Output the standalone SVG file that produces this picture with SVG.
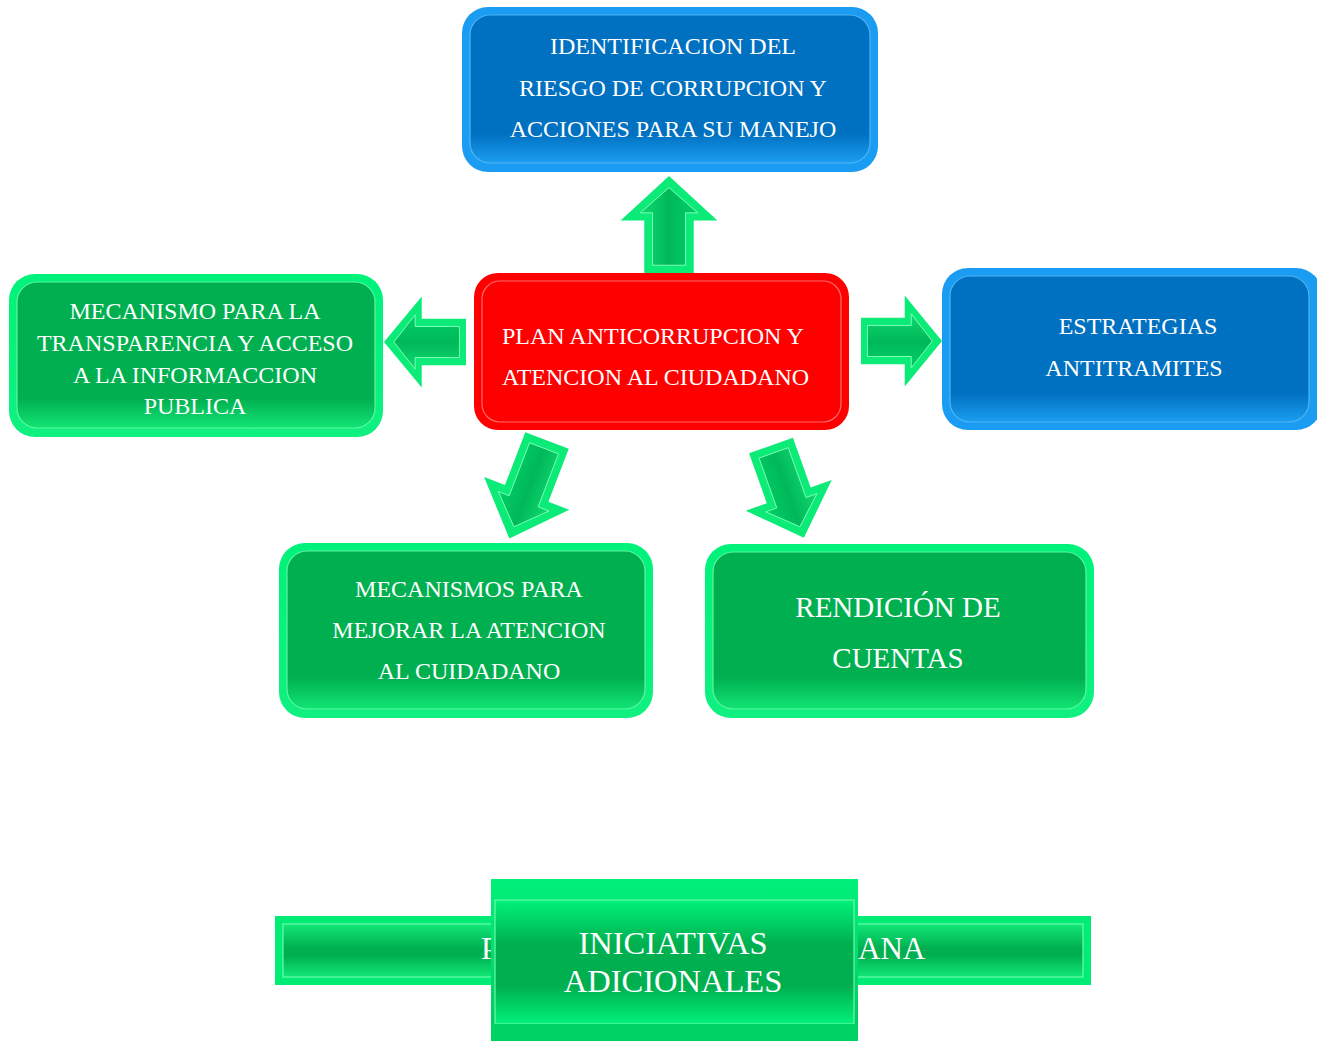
<svg xmlns="http://www.w3.org/2000/svg" width="1317" height="1041" viewBox="0 0 1317 1041">
<defs>
<linearGradient id="gIn" x1="0" y1="0" x2="0" y2="1">
<stop offset="0" stop-color="#00B050"/><stop offset="0.8" stop-color="#00B050"/><stop offset="1" stop-color="#12E474"/>
</linearGradient>
<linearGradient id="gOut" x1="0" y1="0" x2="0" y2="1">
<stop offset="0" stop-color="#00F27A"/><stop offset="1" stop-color="#10F080"/>
</linearGradient>
<linearGradient id="bIn" x1="0" y1="0" x2="0" y2="1">
<stop offset="0" stop-color="#0070C0"/><stop offset="0.8" stop-color="#0070C0"/><stop offset="1" stop-color="#1C9EF0"/>
</linearGradient>
<linearGradient id="barIn" x1="0" y1="0" x2="0" y2="1">
<stop offset="0" stop-color="#12E878"/><stop offset="0.45" stop-color="#00B050"/><stop offset="0.6" stop-color="#00B050"/><stop offset="1" stop-color="#12E878"/>
</linearGradient>
<linearGradient id="frontIn" x1="0" y1="0" x2="0" y2="1">
<stop offset="0" stop-color="#00F27A"/><stop offset="0.35" stop-color="#00B050"/><stop offset="0.7" stop-color="#00B050"/><stop offset="1" stop-color="#00F27A"/>
</linearGradient>
<linearGradient id="frontTop" x1="0" y1="0" x2="0" y2="1">
<stop offset="0" stop-color="#00F07A"/><stop offset="1" stop-color="#00C860"/>
</linearGradient>
<linearGradient id="aIn" x1="0" y1="0" x2="1" y2="0">
<stop offset="0" stop-color="#00D068"/><stop offset="0.5" stop-color="#00B858"/><stop offset="1" stop-color="#10DA72"/>
</linearGradient>
<g id="arrow">
<path d="M-24,0 L24,0 L24,54 L47,54 L0,100 L-47,54 L-24,54 Z" fill="#0CEA78"/>
<path d="M-16,8 L16,8 L16,62 L28,62 L0,88 L-28,62 L-16,62 Z" fill="url(#aIn)" stroke="#7CFFB6" stroke-width="1" vector-effect="non-scaling-stroke"/>
</g>
</defs>
<style>
.t{font-family:"Liberation Serif","Times New Roman",serif;fill:#FFFFFF;font-size:24px;text-anchor:middle}
.s{text-anchor:start}
.thin{fill:none;stroke-width:1.2}
</style>
<rect width="1317" height="1041" fill="#FFFFFF"/>

<g id="connectors">
<use href="#arrow" transform="translate(669,273) rotate(180) scale(1.03,0.97)"/>
<use href="#arrow" transform="translate(466,342) rotate(90) scale(0.97,0.82)"/>
<use href="#arrow" transform="translate(861,341) rotate(-90) scale(0.97,0.81)"/>
<use href="#arrow" transform="translate(547,440.5) rotate(21) scale(0.97,1.05)"/>
<use href="#arrow" transform="translate(771,445.5) rotate(-19.6) scale(0.97,0.98)"/>
</g>

<g id="node-identificacion">
<rect x="462" y="7" width="416" height="165" rx="26" fill="#1A9CF2"/>
<rect x="470" y="15" width="400" height="148" rx="20" fill="url(#bIn)"/>
<rect x="470" y="15" width="400" height="148" rx="20" class="thin" stroke="#4FB4F4"/>
<text class="t" x="673" y="54">IDENTIFICACION DEL</text>
<text class="t" x="673" y="96">RIESGO DE CORRUPCION Y</text>
<text class="t" x="673" y="137">ACCIONES PARA SU MANEJO</text>
</g>

<g id="node-plan">
<rect x="474" y="273" width="375" height="157" rx="24" fill="#FF0000"/>
<rect x="482" y="281" width="359" height="141" rx="18" class="thin" stroke="#FF6A6A"/>
<text class="t s" x="502" y="344">PLAN ANTICORRUPCION Y</text>
<text class="t s" x="502" y="385">ATENCION AL CIUDADANO</text>
</g>

<g id="node-mecanismo-transparencia">
<rect x="9" y="274" width="374" height="163" rx="26" fill="url(#gOut)"/>
<rect x="17" y="282" width="358" height="146" rx="20" fill="url(#gIn)"/>
<rect x="17" y="282" width="358" height="146" rx="20" class="thin" stroke="#5CF5A0"/>
<text class="t" x="195" y="319">MECANISMO PARA LA</text>
<text class="t" x="195" y="351">TRANSPARENCIA Y ACCESO</text>
<text class="t" x="195" y="383">A LA INFORMACCION</text>
<text class="t" x="195" y="414">PUBLICA</text>
</g>

<g id="node-estrategias">
<rect x="942" y="268" width="380" height="162" rx="26" fill="#1A9CF2"/>
<rect x="950" y="276" width="359" height="146" rx="20" fill="url(#bIn)"/>
<rect x="950" y="276" width="359" height="146" rx="20" class="thin" stroke="#4FB4F4"/>
<text class="t" x="1138" y="334">ESTRATEGIAS</text>
<text class="t" x="1134" y="376">ANTITRAMITES</text>
</g>

<g id="node-mecanismos-atencion">
<rect x="279" y="543" width="374" height="175" rx="26" fill="url(#gOut)"/>
<rect x="287" y="551" width="358" height="158" rx="20" fill="url(#gIn)"/>
<rect x="287" y="551" width="358" height="158" rx="20" class="thin" stroke="#5CF5A0"/>
<text class="t" x="469" y="597">MECANISMOS PARA</text>
<text class="t" x="469" y="638">MEJORAR LA ATENCION</text>
<text class="t" x="469" y="679">AL CUIDADANO</text>
</g>

<g id="node-rendicion">
<rect x="705" y="544" width="389" height="174" rx="26" fill="url(#gOut)"/>
<rect x="713" y="552" width="373" height="157" rx="20" fill="url(#gIn)"/>
<rect x="713" y="552" width="373" height="157" rx="20" class="thin" stroke="#5CF5A0"/>
<text class="t" x="898" y="617" style="font-size:29px">RENDICIÓN DE</text>
<text class="t" x="898" y="668" style="font-size:29px">CUENTAS</text>
</g>

<g id="node-participacion">
<rect x="275" y="916" width="816" height="69" fill="#00EC74"/>
<rect x="283" y="924" width="800" height="53" fill="url(#barIn)"/>
<rect x="283" y="924" width="800" height="53" class="thin" stroke="#6CF8AC"/>
<text class="t s" x="481" y="959" style="font-size:31px">P</text>
<text class="t s" x="858" y="959" style="font-size:31px">ANA</text>
</g>

<g id="node-iniciativas">
<rect x="491" y="879" width="367" height="162" fill="url(#frontTop)"/>
<rect x="495" y="900" width="359" height="124" fill="url(#frontIn)"/>
<rect x="495" y="900" width="359" height="124" class="thin" stroke="#6CF8AC"/>
<rect x="491" y="1024" width="367" height="17" fill="#00D264"/>
<text class="t" x="673" y="954" style="font-size:32.5px">INICIATIVAS</text>
<text class="t" x="673" y="992" style="font-size:32.5px">ADICIONALES</text>
</g>
</svg>
